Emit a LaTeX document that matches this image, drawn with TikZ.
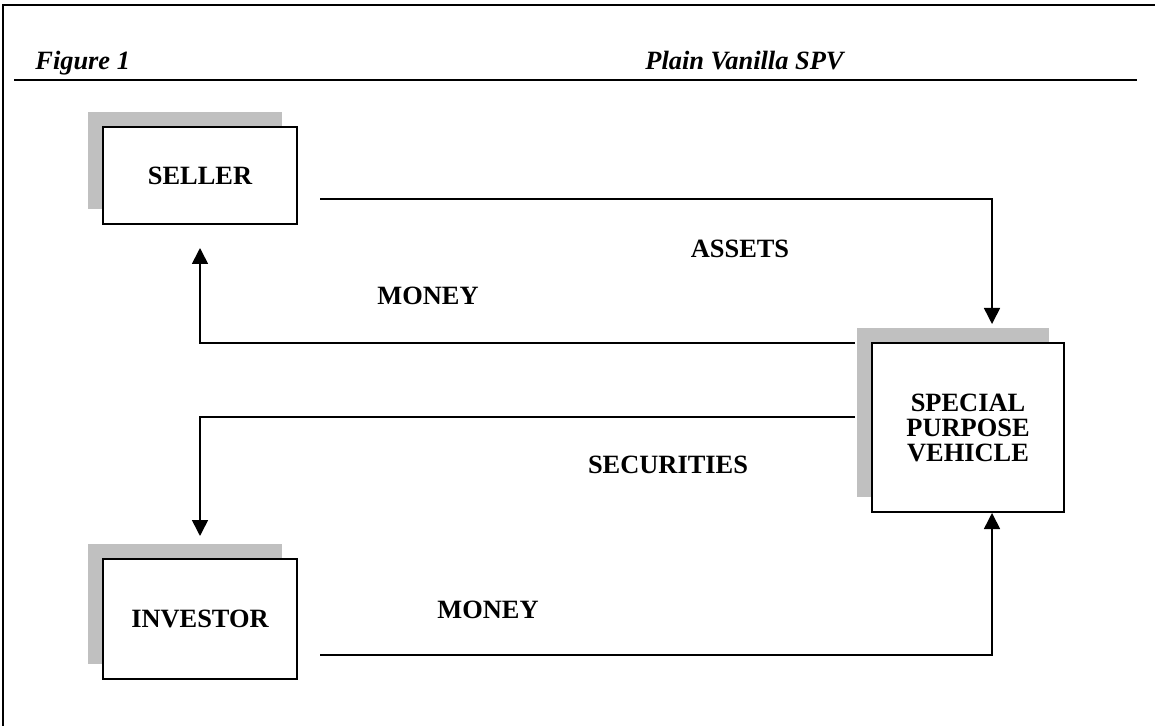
\documentclass[tikz,border=0pt]{standalone}
\usepackage{fontspec}
\setmainfont{Liberation Serif}
\usetikzlibrary{arrows.meta,shadows}
\definecolor{shadowgray}{RGB}{192,192,192}
\begin{document}
\begin{tikzpicture}[x=0.5pt,y=-0.5pt,
  box/.style={draw,line width=1pt,fill=white,align=center,inner sep=0pt,
    font=\fontsize{13.2}{12.5}\selectfont\bfseries,
    drop shadow={shadow xshift=-7.5pt,shadow yshift=7.5pt,fill=shadowgray,opacity=1}},
  flow/.style={line width=0.8pt,-{Triangle[width=8pt,length=8pt]}},
  lbl/.style={font=\fontsize{13.2}{15}\selectfont\bfseries,inner sep=0pt},
  hdr/.style={font=\fontsize{13.2}{15}\selectfont\bfseries\itshape,anchor=base west,inner sep=0pt},
  frameline/.style={line width=1pt}]
\useasboundingbox (0,0) rectangle (1155,726);
% frame
\draw[frameline] (3,726) -- (3,5) -- (1155,5);
% header
\node[hdr] (fig) at (35,70) {Figure 1};
\node[hdr] (title) at (645,70) {Plain Vanilla SPV};
\draw[line width=1.3pt] (14,80) -- (1137,80);
% boxes
\node[box,minimum width=97pt,minimum height=48.5pt] (seller) at (200,175.5) {SELLER};
\node[box,minimum width=96pt,minimum height=84.5pt] (spv) at (968,427.5) {SPECIAL\\PURPOSE\\VEHICLE};
\node[box,minimum width=97pt,minimum height=60pt] (investor) at (200,619) {INVESTOR};
% connector ends
\coordinate (assetsStart) at (320,199);
\coordinate (assetsEnd) at (992,324);
\coordinate (moneyStart) at (855,343);
\coordinate (moneyEnd) at (200,248);
\coordinate (secStart) at (855,417);
\coordinate (secEnd) at (200,536);
\coordinate (money2Start) at (320,655);
% connectors
\draw[flow] (assetsStart) -| (assetsEnd);
\draw[flow] (moneyStart) -| (moneyEnd);
\draw[flow] (secStart) -| (secEnd);
\draw[flow] (money2Start) -| (spv.south -| assetsEnd);
% labels
\node[lbl] (lassets) at (740,249) {ASSETS};
\node[lbl] (lmoney) at (428,296) {MONEY};
\node[lbl] (lsec) at (668,465) {SECURITIES};
\node[lbl] (lmoney2) at (488,610) {MONEY};
\end{tikzpicture}
\end{document}
